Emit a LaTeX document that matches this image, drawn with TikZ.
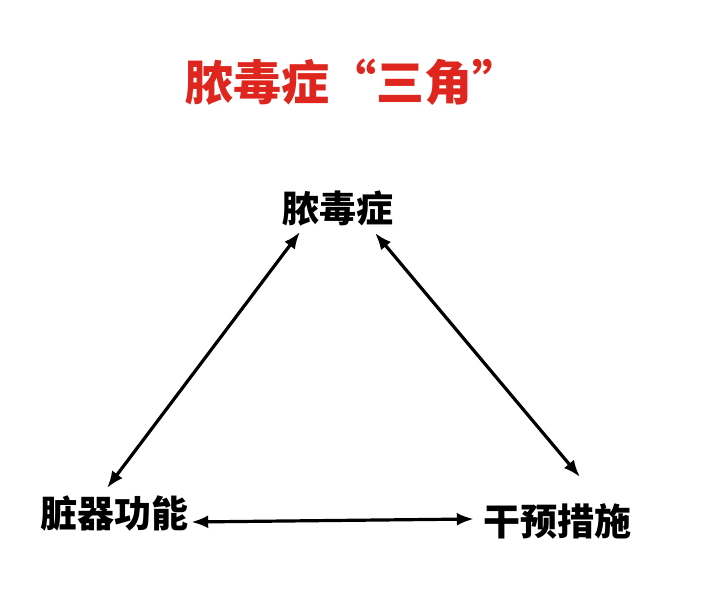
\documentclass[tikz,border=0pt]{standalone}
\usepackage{fontspec}
\setmainfont{Noto Sans CJK SC}
\usepackage{xcolor}
\usetikzlibrary{arrows.meta,positioning}
\definecolor{titlered}{RGB}{222,38,30}

\begin{document}
\begin{tikzpicture}[
    x=1pt, y=-1pt,
    label/.style={inner sep=0pt, font=\fontsize{37}{40}\selectfont\bfseries},
    link/.style={{Latex[length=17pt,width=13pt]}-{Latex[length=17pt,width=13pt]}, line width=3.2pt, black}
  ]
    \useasboundingbox (0,0) rectangle (716,592);

    \node[inner sep=0pt, text=titlered, font=\fontsize{48}{52}\selectfont\bfseries] (title) at (353,82) {脓毒症“三角”};

    \node[label] (sepsis) at (338,209) {脓毒症};
    \node[label] (organ) at (115,513) {脏器功能};
    \node[label] (care) at (557,521) {干预措施};

    \draw[link] ([shift={(-38,5)}]sepsis.south) -- ([shift={(-8,-7)}]organ.north);
    \draw[link] ([shift={(37,6)}]sepsis.south) -- ([shift={(23,-26)}]care.north);
    \draw[link] ([shift={(2,9)}]organ.east) -- ([shift={(-9,-2)}]care.west);
\end{tikzpicture}
\end{document}
